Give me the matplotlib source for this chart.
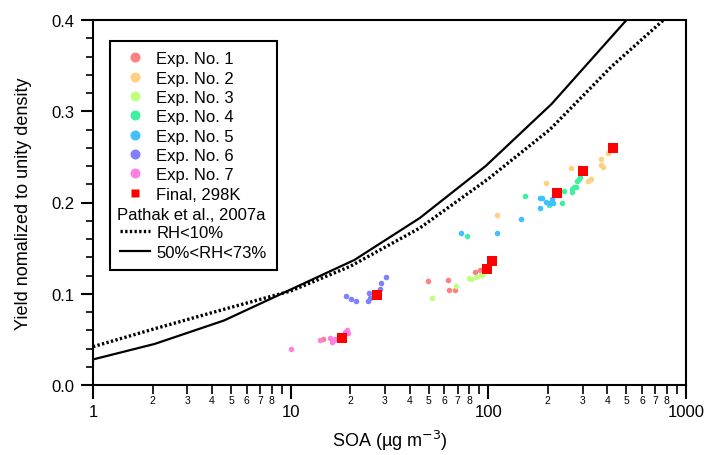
import matplotlib
matplotlib.use('Agg')
import matplotlib.pyplot as plt
from matplotlib.lines import Line2D
from matplotlib.ticker import FixedLocator, FixedFormatter, NullFormatter

plt.rcParams['font.family'] = ['Liberation Sans', 'DejaVu Sans']

# --- data ---
exp1_x = [14.5, 49.8, 62.7, 63.4, 68, 85.7, 90.8]
exp1_y = [0.050, 0.114, 0.115, 0.104, 0.104, 0.124, 0.126]
exp2_x = [111, 196, 262, 318, 330, 370, 370, 381, 404]
exp2_y = [0.1866, 0.2214, 0.2377, 0.224, 0.2254, 0.2475, 0.241, 0.2388, 0.2543]
exp3_x = [51.9, 68.5, 80, 82, 87, 91.4, 94.4]
exp3_y = [0.095, 0.109, 0.117, 0.116, 0.118, 0.121, 0.122]
exp4_x = [78.4, 153, 203, 236.5, 242, 264, 270, 278, 264, 280, 286, 291]
exp4_y = [0.163, 0.207, 0.197, 0.1996, 0.2127, 0.2116, 0.217, 0.2174, 0.215, 0.224, 0.226, 0.228]
exp5_x = [73.1, 110, 146.5, 181.7, 186.7, 181.7, 196, 205.6, 212, 210, 214]
exp5_y = [0.167, 0.167, 0.182, 0.2054, 0.2054, 0.1935, 0.2007, 0.199, 0.200, 0.2043, 0.208]
exp6_x = [19.0, 20.3, 21.5, 24.7, 25.1, 24.8, 28.2, 28.6, 30.5]
exp6_y = [0.097, 0.0946, 0.092, 0.092, 0.0957, 0.101, 0.1047, 0.112, 0.118]
exp7_x = [10.0, 14.1, 15.8, 16.1, 16.5, 16.8, 19.2, 19.6, 18.8]
exp7_y = [0.039, 0.049, 0.052, 0.047, 0.049, 0.050, 0.0605, 0.0565, 0.058]
final_x = [18.1, 27.2, 98.9, 104.8, 222, 300, 428]
final_y = [0.052, 0.099, 0.1275, 0.1355, 0.2109, 0.234, 0.2598]

# Pathak et al., 2007a
dry_x = [1, 2, 4.6, 10, 20, 45, 100, 205, 420, 770, 1000]
dry_y = [0.042, 0.061, 0.083, 0.103, 0.130, 0.172, 0.226, 0.280, 0.349, 0.40, 0.43]
wet_x = [1, 2.05, 4.6, 9.2, 21, 45, 97, 209, 500, 1000]
wet_y = [0.028, 0.045, 0.0707, 0.101, 0.137, 0.183, 0.240, 0.308, 0.40, 0.47]

exp_names = ['Exp. No. 1', 'Exp. No. 2', 'Exp. No. 3', 'Exp. No. 4',
             'Exp. No. 5', 'Exp. No. 6', 'Exp. No. 7']
exp_colors = ['#ff8080', '#ffd080', '#c0ff80', '#40f0a0', '#40c0ff', '#8080ff', '#ff80e0']
exp_xs = [exp1_x, exp2_x, exp3_x, exp4_x, exp5_x, exp6_x, exp7_x]
exp_ys = [exp1_y, exp2_y, exp3_y, exp4_y, exp5_y, exp6_y, exp7_y]

fig = plt.figure(figsize=(7.08, 4.56), dpi=100)
ax = fig.add_axes([93/708, 1-386/456, (686-93)/708, (386-21)/456])

ax.plot(dry_x, dry_y, color='black', lw=2.4, linestyle=(0, (0.7, 0.7)), zorder=2)
ax.plot(wet_x, wet_y, color='black', lw=1.6, zorder=2)

for xs, ys, c in zip(exp_xs, exp_ys, exp_colors):
    ax.scatter(xs, ys, s=16, color=c, linewidths=0, zorder=3)
ax.scatter(final_x, final_y, s=60, marker='s', color='red', linewidths=0, zorder=4)

ax.set_xscale('log')
ax.set_xlim(1, 1000)
ax.set_ylim(0, 0.4)

for sp in ax.spines.values():
    sp.set_linewidth(1.5)

ax.xaxis.set_major_locator(FixedLocator([1, 10, 100, 1000]))
ax.xaxis.set_major_formatter(FixedFormatter(['1', '10', '100', '1000']))
minors = [m * 10**d for d in range(3) for m in range(2, 10)]
ax.xaxis.set_minor_locator(FixedLocator(minors))
ax.xaxis.set_minor_formatter(FixedFormatter(
    [str(m) if m < 9 else '' for d in range(3) for m in range(2, 10)]))
ax.tick_params(axis='x', which='major', direction='out', length=10, width=1.5,
               labelsize=12, pad=4)
ax.tick_params(axis='x', which='minor', direction='out', length=6.5, width=1.2,
               labelsize=7.5, pad=1)

ax.set_yticks([0.0, 0.1, 0.2, 0.3, 0.4])
ax.set_yticklabels(['0.0', '0.1', '0.2', '0.3', '0.4'])
ax.set_yticks([i * 0.02 for i in range(21) if i % 5], minor=True)
ax.yaxis.set_minor_formatter(NullFormatter())
ax.tick_params(axis='y', which='major', direction='out', length=8.5, width=1.5,
               labelsize=12, pad=5)
ax.tick_params(axis='y', which='minor', direction='out', length=5, width=1.2)

ax.set_xlabel('SOA (µg m$^{-3}$)', fontsize=13, labelpad=6)
ax.set_ylabel('Yield nomalized to unity density', fontsize=13, labelpad=14)

handles = [Line2D([], [], ls='none', marker='o', ms=7.2, mfc=c, mec='none')
           for c in exp_colors]
handles.append(Line2D([], [], ls='none', marker='s', ms=6.2, mfc='red', mec='none'))
handles.append(Line2D([], [], ls='none'))
handles.append(Line2D([], [], color='black', lw=2.4, ls=(0, (0.7, 0.7))))
handles.append(Line2D([], [], color='black', lw=1.6))
labels = exp_names + ['Final, 298K', ' ', 'RH<10%', '50%<RH<73%']

leg = ax.legend(handles, labels, loc='upper left', bbox_to_anchor=(0.028, 0.942),
                borderaxespad=0, fontsize=12, handlelength=1.8, handletextpad=0.4,
                labelspacing=0.26, fancybox=False, framealpha=1, borderpad=0.6)
leg.get_frame().set_edgecolor('black')
leg.get_frame().set_linewidth(1.5)

# full-width heading row inside the legend box
fig.canvas.draw()
r = fig.canvas.get_renderer()
frame = leg.get_frame().get_window_extent(r)
t7 = leg.get_texts()[7].get_window_extent(r)
t9 = leg.get_texts()[9].get_window_extent(r)
yc = ((t7.y0 + t7.y1) / 2 + (t9.y0 + t9.y1) / 2) / 2
fig.text((frame.x0 + 7) / fig.bbox.width, yc / fig.bbox.height, 'Pathak et al., 2007a',
         fontsize=12, ha='left', va='center_baseline')

fig.savefig('out.png', dpi=100)
